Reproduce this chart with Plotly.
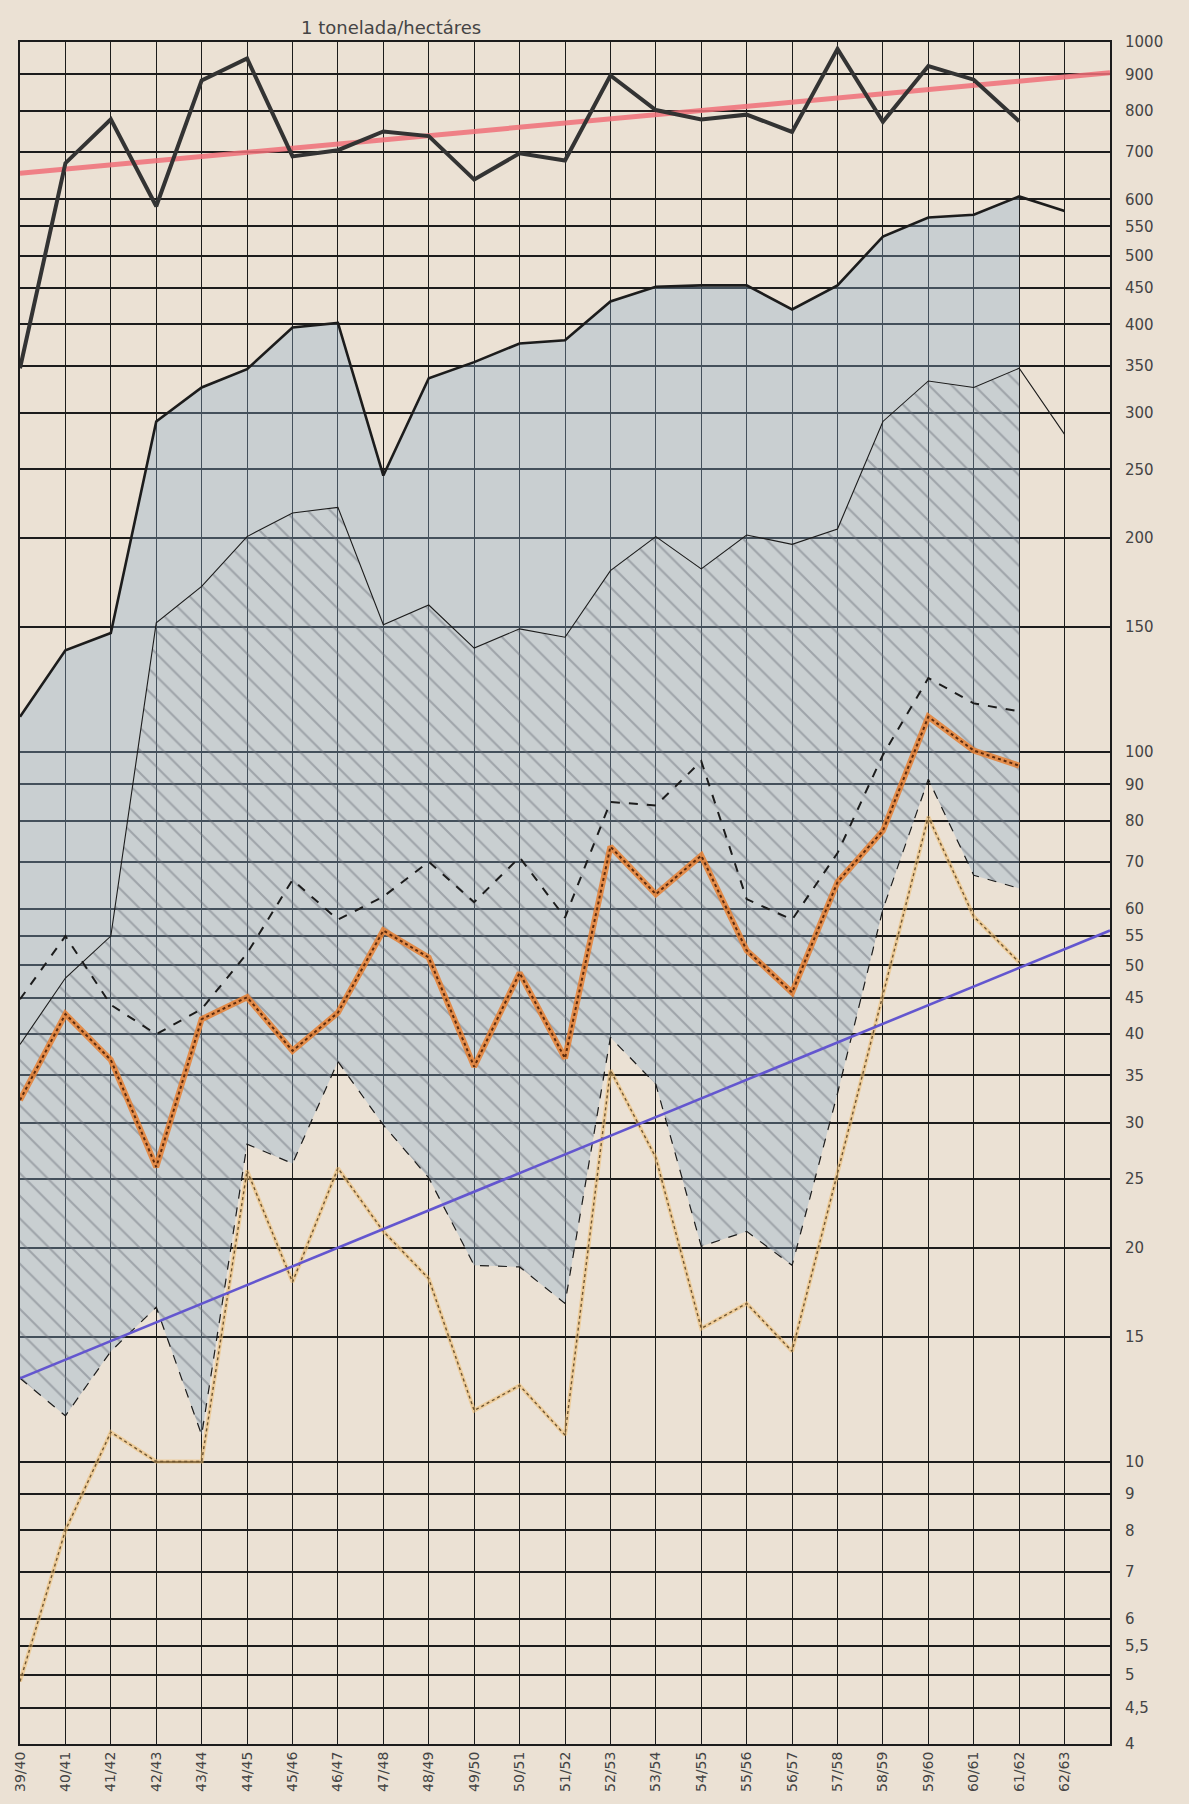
import numpy as np
import plotly.graph_objects as go

# harvest years on the x axis
seasons = ["39/40", "40/41", "41/42", "42/43", "43/44", "44/45", "45/46", "46/47",
           "47/48", "48/49", "49/50", "50/51", "51/52", "52/53", "53/54", "54/55",
           "55/56", "56/57", "57/58", "58/59", "59/60", "60/61", "61/62", "62/63"]

# (tonelada/hectáres)
top_line = [347, 675, 778, 587, 883, 948, 690, 704, 748, 737, 640, 697, 681, 897, 802,
            778, 790, 747, 978, 772, 925, 885, 773]
upper_line = [112, 139, 147, 292, 326, 346, 396, 402, 245, 336, 354, 376, 380, 431, 452,
              454, 454, 420, 454, 532, 566, 571, 606, 578]
thin_line = [38.7, 48, 55, 152, 171, 201, 217, 221, 151, 161, 140, 149, 145, 180, 201,
             181, 202, 196, 206, 292, 333, 326, 347, 280]
dashed_line = [44.8, 55, 44, 40, 43.4, 52, 66, 58, 62.5, 70, 61.4, 71, 58.4, 85, 84,
               97, 62, 58, 72, 99, 127, 117, 114]
orange_line = [32.3, 42.7, 36.8, 26, 42, 45.1, 37.9, 42.9, 56, 51.3, 36, 48.8, 37,
               73.5, 63, 71.4, 52.5, 45.8, 65.5, 77.4, 112, 100.4, 95.6]
thin_dashed = [13.1, 11.6, 14.3, 16.5, 10.9, 28, 26.3, 36.6, 29.8, 25.1, 18.9, 18.8,
               16.7, 39.6, 34, 20.1, 21.1, 18.9, 33, 60, 91.5, 67, 64.2]
dotted_line = [4.9, 8.0, 11, 10, 10, 25.7, 17.9, 25.9, 21.1, 18.1, 11.8, 12.8, 10.9,
               35.6, 26.8, 15.4, 16.7, 14.3, 25.5, 45.6, 81, 58.6, 50.5]

# straight trend lines, first season to right edge of the sheet
trend_x = [0, 24]
red_trend = [653, 905]
blue_trend = [13.1, 56]

y_ticks = [1000, 900, 800, 700, 600, 550, 500, 450, 400, 350, 300, 250, 200, 150,
           100, 90, 80, 70, 60, 55, 50, 45, 40, 35, 30, 25, 20, 15,
           10, 9, 8, 7, 6, 5.5, 5, 4.5, 4]
y_tick_text = [str(v).replace(".", ",") for v in y_ticks]

paper = "#ebe1d4"
ink = "#1c1c1c"
label_font = dict(family="DejaVu Sans", size=15, color="#444444")

x_all = list(range(len(seasons)))
n_fill = 23  # shading stops at 61/62

fig = go.Figure()

# blue-grey band between the upper line and the lowest dashed line
fig.add_trace(go.Scatter(x=x_all[:n_fill], y=thin_dashed[:n_fill], mode="lines",
                         line=dict(width=0), hoverinfo="skip", showlegend=False))
fig.add_trace(go.Scatter(x=x_all[:n_fill], y=upper_line[:n_fill], mode="lines",
                         line=dict(width=0), fill="tonexty",
                         fillcolor="rgba(140,175,205,0.36)",
                         hoverinfo="skip", showlegend=False))

# hatched band between the thin line and the lowest dashed line
fig.add_trace(go.Scatter(x=x_all[:n_fill], y=thin_dashed[:n_fill], mode="lines",
                         line=dict(width=0), hoverinfo="skip", showlegend=False))
fig.add_trace(go.Scatter(x=x_all[:n_fill], y=thin_line[:n_fill], mode="lines",
                         line=dict(width=0), fill="tonexty",
                         fillcolor="rgba(0,0,0,0)",
                         fillpattern=dict(shape="\\", size=16, solidity=0.13,
                                          fgcolor="rgba(105,110,120,0.45)",
                                          bgcolor="rgba(0,0,0,0)", fillmode="replace"),
                         hoverinfo="skip", showlegend=False))

# dotted yellow series
fig.add_trace(go.Scatter(x=x_all[:len(dotted_line)], y=dotted_line, mode="lines",
                         line=dict(color="rgba(240,190,110,0.55)", width=4),
                         hoverinfo="skip", showlegend=False))
fig.add_trace(go.Scatter(x=x_all[:len(dotted_line)], y=dotted_line, mode="lines",
                         line=dict(color="#6f5530", width=1.4, dash="dot"),
                         showlegend=False))

fig.add_trace(go.Scatter(x=x_all[:len(thin_dashed)], y=thin_dashed, mode="lines",
                         line=dict(color=ink, width=1.2, dash="dash"), showlegend=False))

fig.add_trace(go.Scatter(x=trend_x, y=blue_trend, mode="lines",
                         line=dict(color="#6356cf", width=2.6), showlegend=False))

fig.add_trace(go.Scatter(x=x_all[:len(dashed_line)], y=dashed_line, mode="lines",
                         line=dict(color=ink, width=2, dash="dash"), showlegend=False))

# orange series: wide orange stroke with a dark dotted core
fig.add_trace(go.Scatter(x=x_all[:len(orange_line)], y=orange_line, mode="lines",
                         line=dict(color="rgba(232,128,50,0.85)", width=6),
                         hoverinfo="skip", showlegend=False))
fig.add_trace(go.Scatter(x=x_all[:len(orange_line)], y=orange_line, mode="lines",
                         line=dict(color="#5c2a0c", width=2, dash="dot"), showlegend=False))

fig.add_trace(go.Scatter(x=x_all, y=thin_line, mode="lines",
                         line=dict(color=ink, width=1.1), showlegend=False))
fig.add_trace(go.Scatter(x=x_all, y=upper_line, mode="lines",
                         line=dict(color=ink, width=2.6), showlegend=False))

fig.add_trace(go.Scatter(x=trend_x, y=red_trend, mode="lines",
                         line=dict(color="rgba(240,110,120,0.85)", width=5), showlegend=False))

fig.add_trace(go.Scatter(x=x_all[:len(top_line)], y=top_line, mode="lines",
                         line=dict(color="#333333", width=4), showlegend=False))

fig.update_xaxes(
    range=[0, 24],
    tickmode="array", tickvals=x_all, ticktext=seasons,
    tickangle=-90, ticks="",
    tickfont=dict(family="DejaVu Sans", size=14, color="#444444"),
    showgrid=True, gridcolor=ink, gridwidth=1.1,
    showline=True, linecolor=ink, linewidth=2, mirror=True,
    zeroline=False,
)
fig.update_yaxes(
    type="log", range=[np.log10(4), 3],
    tickmode="array", tickvals=y_ticks, ticktext=y_tick_text,
    side="right", ticks="", ticklabelstandoff=10,
    tickfont=label_font,
    showgrid=True, gridcolor=ink, gridwidth=2,
    showline=True, linecolor=ink, linewidth=2, mirror=True,
    zeroline=False,
)

fig.add_annotation(text="1 tonelada/hectáres", xref="paper", yref="paper",
                   x=0.34, y=1.0, yanchor="bottom", yshift=2, showarrow=False,
                   font=dict(family="DejaVu Sans", size=18, color="#444444"))

fig.update_layout(
    width=1189, height=1804, autosize=False,
    margin=dict(l=18, r=79, t=42, b=44),
    paper_bgcolor=paper, plot_bgcolor=paper,
    showlegend=False,
)

# drop the default body margin so the figure fills the window
fig.write_html("out.html",
               config={"displayModeBar": False},
               post_script="document.body.style.margin='0';"
                           "document.body.style.overflow='hidden';")
